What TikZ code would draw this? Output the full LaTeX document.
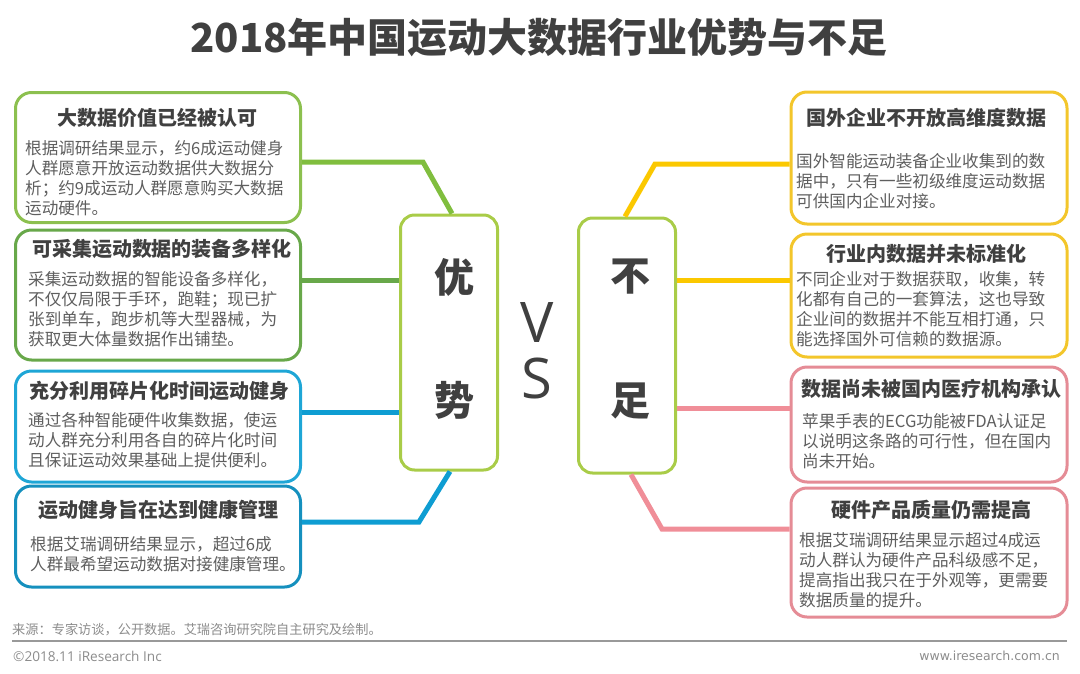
\documentclass[tikz,border=0pt]{standalone}
\usepackage{fontspec}
\setmainfont{Noto Sans CJK SC}
\newfontfamily\latinfont{Open Sans}
\newfontfamily\urlfont{DejaVu Sans}
\usetikzlibrary{positioning}
\definecolor{inkdark}{HTML}{404040}
\definecolor{inkbody}{HTML}{5F5F5F}
\definecolor{inkfoot}{HTML}{8C8C8C}
\definecolor{greenA}{HTML}{8CC04F}
\definecolor{greenB}{HTML}{68A84A}
\definecolor{greenC}{HTML}{80BE3E}
\definecolor{blueA}{HTML}{1EA6D6}
\definecolor{blueB}{HTML}{1590BE}
\definecolor{blueC}{HTML}{0E9DD2}
\definecolor{yellowA}{HTML}{F3C62B}
\definecolor{yellowC}{HTML}{FBC800}
\definecolor{pinkA}{HTML}{E58C96}
\definecolor{pinkC}{HTML}{F08E98}
\definecolor{lime}{HTML}{A9CC48}
\tikzset{
    %Define style for boxes
    card/.style={
           rectangle,
           rounded corners=16pt,
           draw, line width=3pt,
           fill=white,
           inner sep=0pt,
           },
    pillar/.style={
           rectangle,
           rounded corners=14pt,
           draw=lime, line width=3pt,
           fill=white,
           inner sep=0pt,
           minimum width=97pt,
           minimum height=255pt,
           },
    %Define style for texts
    head/.style={
           inner sep=0pt,
           text=inkdark,
           font=\fontsize{20}{24}\selectfont\bfseries,
           },
    body/.style={
           anchor=west,
           inner sep=0pt,
           align=left,
           text=inkbody,
           font=\fontsize{16.6}{20}\selectfont,
           },
    bigchar/.style={
           inner sep=0pt,
           text=inkdark,
           font=\fontsize{40}{44}\selectfont\bfseries,
           },
    versus/.style={
           inner sep=0pt,
           text=inkdark,
           font=\latinfont\fontsize{56}{60}\selectfont,
           },
    % Define connector style
    link/.style={
           line width=5pt,
           },
}
\begin{document}
\begin{tikzpicture}[x=1pt,y=-1pt]
\useasboundingbox (0,0) rectangle (1080,673);
\node[inner sep=0pt,text=inkdark,font=\fontsize{40}{44}\selectfont\bfseries](title) at (539,38){2018年中国运动大数据行业优势与不足};
% center
\node[pillar](you) at (449,342.5){};
\node[pillar](bu) at (627,345.5){};
\node[bigchar](you1) at (454,277){优};
\node[bigchar](you2) at (454,400){势};
\node[bigchar](bu1) at (630,277){不};
\node[bigchar](bu2) at (630,401){足};
\node[versus](v) at (537,323){V};
\node[versus](s) at (537,378){S};
% left cards
\node[card,draw=greenA,minimum width=285pt,minimum height=130pt](adv1) at (158,157.5){};
\node[card,draw=greenB,minimum width=285pt,minimum height=130pt](adv2) at (158,295){};
\node[card,draw=blueA,minimum width=285pt,minimum height=111pt](adv3) at (158,426.5){};
\node[card,draw=blueB,minimum width=285pt,minimum height=101pt](adv4) at (158,536.5){};
\node[head](adv1h) at (157,118){大数据价值已经被认可};
\node[head](adv2h) at (162,249){可采集运动数据的装备多样化};
\node[head](adv3h) at (160,391){充分利用碎片化时间运动健身};
\node[head](adv4h) at (158,510){运动健身旨在达到健康管理};
\node[body](adv1b) at (25,178){根据调研结果显示，约6成运动健身\\人群愿意开放运动数据供大数据分\\析；约9成运动人群愿意购买大数据\\运动硬件。};
\node[body](adv2b) at (28,309){采集运动数据的智能设备多样化，\\不仅仅局限于手环，跑鞋；现已扩\\张到单车，跑步机等大型器械，为\\获取更大体量数据作出铺垫。};
\node[body](adv3b) at (28,440){通过各种智能硬件收集数据，使运\\动人群充分利用各自的碎片化时间\\且保证运动效果基础上提供便利。};
\node[body](adv4b) at (30,554){根据艾瑞调研结果显示，超过6成\\人群最希望运动数据对接健康管理。};
% right cards
\node[card,draw=yellowA,minimum width=276pt,minimum height=132pt](dis1) at (929,158){};
\node[card,draw=yellowA,minimum width=276pt,minimum height=123pt](dis2) at (929,295.5){};
\node[card,draw=pinkA,minimum width=276pt,minimum height=115pt](dis3) at (929,424.5){};
\node[card,draw=pinkA,minimum width=276pt,minimum height=129pt](dis4) at (929,552.5){};
\node[head](dis1h) at (926,118){国外企业不开放高维度数据};
\node[head](dis2h) at (926,254){行业内数据并未标准化};
\node[head](dis3h) at (931,389){数据尚未被国内医疗机构承认};
\node[head](dis4h) at (931,510){硬件产品质量仍需提高};
\node[body](dis1b) at (796,181){国外智能运动装备企业收集到的数\\据中，只有一些初级维度运动数据\\可供国内企业对接。};
\node[body](dis2b) at (796,309){不同企业对于数据获取，收集，转\\化都有自己的一套算法，这也导致\\企业间的数据并不能互相打通，只\\能选择国外可信赖的数据源。};
\node[body](dis3b) at (802,441){苹果手表的ECG功能被FDA认证足\\以说明这条路的可行性，但在国内\\尚未开始。};
\node[body](dis4b) at (799,570){根据艾瑞调研结果显示超过4成运\\动人群认为硬件产品科级感不足，\\提高指出我只在于外观等，更需要\\数据质量的提升。};
% connectors
\coordinate (k1) at (423,162);
\coordinate (k2) at (350,280);
\coordinate (k3) at (350,412);
\coordinate (k4) at (419,522);
\coordinate (m1) at (655,164);
\coordinate (m2) at (735,280);
\coordinate (m3) at (735,408);
\coordinate (m4) at (662,529);
\draw[link,draw=greenC] (adv1.east |- k1) -- (k1) -- ([xshift=3pt]you.north);
\draw[link,draw=greenB] (adv2.east |- k2) -- (you.west |- k2);
\draw[link,draw=blueC] (adv3.east |- k3) -- (you.west |- k3);
\draw[link,draw=blueC] (adv4.east |- k4) -- (k4) -- ([xshift=1pt]you.south);
\draw[link,draw=yellowC] ([xshift=-2pt]bu.north) -- (m1) -- (dis1.west |- m1);
\draw[link,draw=yellowC] (bu.east |- m2) -- (dis2.west |- m2);
\draw[link,draw=pinkC] (bu.east |- m3) -- (dis3.west |- m3);
\draw[link,draw=pinkC] ([xshift=4pt]bu.south) -- (m4) -- (dis4.west |- m4);
% footer
\node[anchor=west,inner sep=0pt,text=inkfoot,font=\fontsize{13.2}{15}\selectfont](src) at (12,630){来源：专家访谈，公开数据。艾瑞咨询研究院自主研究及绘制。};
\node[anchor=west,inner sep=0pt,text=inkfoot,font=\latinfont\fontsize{13.6}{15}\selectfont](copy) at (13,656){©2018.11 iResearch Inc};
\node[anchor=east,inner sep=0pt,text=inkfoot,font=\urlfont\fontsize{12.5}{15}\selectfont](web) at (1060,656){www.iresearch.com.cn};
\coordinate (r0) at (12,641);
\coordinate (r1) at (1067,641);
\draw[line width=1.2pt,draw=black!40] (r0) -- (r1);
\end{tikzpicture}
\end{document}
